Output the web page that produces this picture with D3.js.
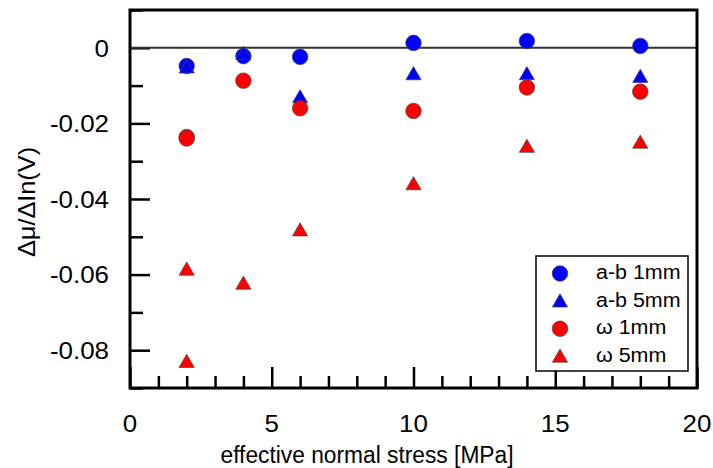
<!DOCTYPE html>
<html>
<head>
<meta charset="utf-8">
<script src="https://cdn.jsdelivr.net/npm/d3@7"></script>
<style>
  body { margin: 0; background: #fff; }
  svg text { font-family: "Liberation Sans", Arial, sans-serif; fill: #000; }
</style>
</head>
<body>
<div id="chart"></div>
<script>
// stress values (MPa)
const stress = [2, 4, 6, 10, 14, 18];
// series values
const ab1mm = [-0.0048, -0.0022, -0.0024, 0.0013, 0.0018, 0.0005];
const ab5mm = [-0.0055, -0.0019, -0.0134, -0.0073, -0.0073, -0.0080];
const w1mmX = [2, 2, 4, 6, 10, 14, 18];
const w1mm = [-0.0236, -0.0240, -0.0087, -0.0160, -0.0167, -0.0105, -0.0116];
const w5mmX = [2, 2, 4, 6, 10, 14, 18];
const w5mm = [-0.0590, -0.0834, -0.0627, -0.0486, -0.0364, -0.0265, -0.0254];
const xTicks = [0, 5, 10, 15, 20];
const yTicks = [0, -0.02, -0.04, -0.06, -0.08];
const legendLabels = ["a-b 1mm", "a-b 5mm", "ω 1mm", "ω 5mm"];

const width = 713, height = 468;
const margin = { top: 10, right: 16, bottom: 80, left: 130 };
const sx = 1.08; // glyphs in the original are a little wide

const svg = d3.select("#chart").append("svg")
    .attr("width", width)
    .attr("height", height);

const x = d3.scaleLinear().domain([0, 20]).range([margin.left, width - margin.right]);
const y = d3.scaleLinear().domain([-0.09, 0.01]).range([height - margin.bottom, margin.top]);

// minor + major ticks, pointing inward
const xAxis = svg.append("g")
    .attr("transform", `translate(0,${y(-0.09)})`)
    .call(d3.axisBottom(x).tickValues(d3.range(0, 21, 1)).tickSize(-12).tickFormat(""));
xAxis.selectAll(".tick line")
    .attr("y2", d => d % 5 === 0 ? -21 : -12)
    .attr("stroke", "#000").attr("stroke-width", 2.5);
xAxis.select(".domain").remove();

const yAxis = svg.append("g")
    .attr("transform", `translate(${x(0)},0)`)
    .call(d3.axisLeft(y).tickValues(d3.range(-9, 2, 1).map(d => d / 100)).tickSize(-13).tickFormat(""));
yAxis.selectAll(".tick line")
    .attr("x2", d => Math.round(d * 100) % 2 === 0 ? 20 : 13)
    .attr("stroke", "#000").attr("stroke-width", 2.5);
yAxis.select(".domain").remove();

// tick labels
svg.append("g").selectAll("text")
    .data(xTicks)
    .join("text")
    .attr("transform", d => `translate(${x(d)},431.5) scale(${sx},1)`)
    .attr("text-anchor", "middle")
    .attr("font-size", 24)
    .text(d => d);

svg.append("g").selectAll("text")
    .data(yTicks)
    .join("text")
    .attr("transform", d => `translate(109,${y(d) + 8.7}) scale(${sx},1)`)
    .attr("text-anchor", "end")
    .attr("font-size", 24)
    .text(d => d === 0 ? "0" : d.toFixed(2));

// zero line
svg.append("line")
    .attr("x1", x(0)).attr("x2", x(20))
    .attr("y1", y(0)).attr("y2", y(0))
    .attr("stroke", "#333").attr("stroke-width", 2);

// frame
svg.append("rect")
    .attr("x", x(0)).attr("y", y(0.01))
    .attr("width", x(20) - x(0))
    .attr("height", y(-0.09) - y(0.01))
    .attr("fill", "none")
    .attr("stroke", "#000")
    .attr("stroke-width", 3);

const circle = d3.symbol().type(d3.symbolCircle).size(190);
const tri = d3.symbol().type(d3.symbolTriangle).size(100);

function drawSeries(xs, ys, shape, color) {
    svg.append("g").selectAll("path")
        .data(ys)
        .join("path")
        .attr("d", shape)
        .attr("transform", (d, i) => `translate(${x(xs[i])},${y(d)})`)
        .attr("fill", color)
        .attr("stroke", "#444")
        .attr("stroke-width", 0.7);
}

drawSeries(stress, ab1mm, circle, "#0000ff");
drawSeries(stress, ab5mm, tri, "#0000ff");
drawSeries(w1mmX, w1mm, circle, "#ff0000");
drawSeries(w5mmX, w5mm, tri, "#ff0000");

// axis titles
svg.append("text")
    .attr("x", 367)
    .attr("y", 463)
    .attr("text-anchor", "middle")
    .attr("font-size", 23)
    .attr("textLength", 293)
    .attr("lengthAdjust", "spacingAndGlyphs")
    .text("effective normal stress [MPa]");

svg.append("text")
    .attr("transform", `translate(35,202) rotate(-90) scale(1.1,1)`)
    .attr("text-anchor", "middle")
    .attr("font-size", 23)
    .text("Δμ/ΔIn(V)");

// legend
const legend = svg.append("g");
legend.append("rect")
    .attr("x", 536).attr("y", 256)
    .attr("width", 152).attr("height", 115)
    .attr("fill", "#fff")
    .attr("stroke", "#000")
    .attr("stroke-width", 1.5);

const legendShapes = [circle, tri, circle, tri];
const legendColors = ["#0000ff", "#0000ff", "#ff0000", "#ff0000"];
legend.selectAll("path")
    .data(legendLabels)
    .join("path")
    .attr("d", (d, i) => legendShapes[i]())
    .attr("transform", (d, i) => `translate(560,${273.5 + i * 27.6 + (i % 2 ? 1.5 : 0)})`)
    .attr("fill", (d, i) => legendColors[i])
    .attr("stroke", "#444")
    .attr("stroke-width", 0.7);
legend.selectAll("text")
    .data(legendLabels)
    .join("text")
    .attr("transform", (d, i) => `translate(596,${279 + i * 27.6}) scale(1.1,1)`)
    .attr("font-size", 19.5)
    .text(d => d);
</script>
</body>
</html>
